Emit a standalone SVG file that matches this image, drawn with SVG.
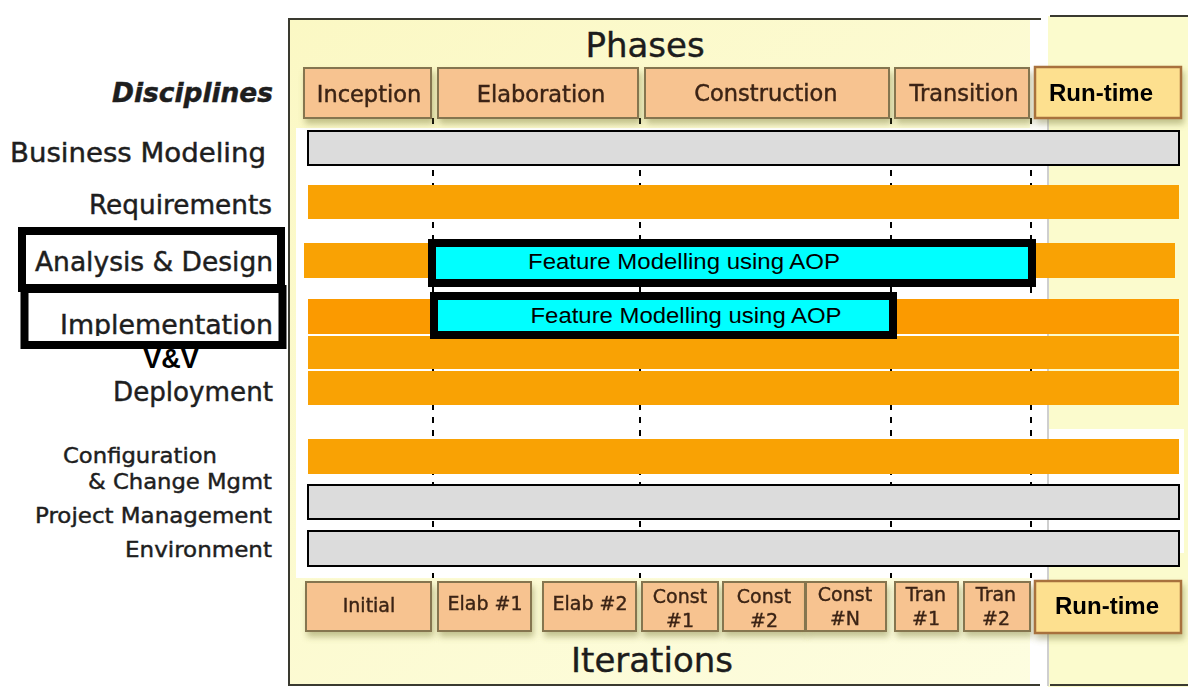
<svg xmlns="http://www.w3.org/2000/svg" width="1188" height="687" viewBox="0 0 1188 687">
  <defs>
    <linearGradient id="panelFill" x1="0" y1="0" x2="1" y2="1">
      <stop offset="0" stop-color="#fbf8c4"/>
      <stop offset="1" stop-color="#fdfde0"/>
    </linearGradient>
    <filter id="boxShadow" x="-10%" y="-20%" width="125%" height="160%">
      <feDropShadow dx="2" dy="5" stdDeviation="3" flood-color="#7d7a3a" flood-opacity="0.45"/>
    </filter>
    <clipPath id="implClip">
      <rect x="0" y="280" width="290" height="56"/>
    </clipPath>
  </defs>
  <style>
    .label { font-family: "DejaVu Sans", Verdana, sans-serif; fill: #1e1e1e; stroke: #1e1e1e; stroke-width: 0.45; }
    .disc { font-size: 26px; text-anchor: end; }
    .disc-sm { font-size: 22px; text-anchor: end; }
    .title { font-size: 34px; text-anchor: middle; fill: #1c1c1c; stroke: #1c1c1c; stroke-width: 0.4; }
    .phase rect { fill: #f7c390; stroke: #85744f; stroke-width: 2; }
    .phase text { font-family: "DejaVu Sans", Verdana, sans-serif; font-size: 22.5px; fill: #3b2414; stroke: #3b2414; stroke-width: 0.45; text-anchor: middle; }
    .iter rect { fill: #f7c390; stroke: #85744f; stroke-width: 2; }
    .iter text { font-family: "DejaVu Sans", Verdana, sans-serif; font-size: 19px; fill: #3b2414; stroke: #3b2414; stroke-width: 0.4; text-anchor: middle; }
    .runtime rect { fill: #fde08f; stroke: #a8713c; stroke-width: 2.5; }
    .runtime text { font-family: "Liberation Sans", Arial, sans-serif; font-weight: bold; font-size: 24px; fill: #000; text-anchor: middle; }
    .grey { fill: #dcdcdc; stroke: #000; stroke-width: 2; }
    .orange { fill: #f9a204; }
    .orange-deep { fill: #fb9a00; }
    .focus rect { fill: #00ffff; stroke: #000; stroke-width: 8; }
    .focus text { font-family: "Liberation Sans", Arial, sans-serif; font-size: 22px; fill: #000; text-anchor: middle; }
    .hilite { fill: none; stroke: #000; stroke-width: 8; }
    .milestone { stroke: #000; stroke-width: 2; stroke-dasharray: 6 7; fill: none; }
  </style>

  <!-- page -->
  <rect x="0" y="0" width="1188" height="687" fill="#ffffff"/>

  <!-- lifecycle panel -->
  <g id="panel">
    <rect x="289" y="19" width="752" height="667" fill="url(#panelFill)"/>
    <rect x="1048" y="16" width="140" height="671" fill="#fbfbcd"/>
    <rect x="1030" y="0" width="18" height="687" fill="#ffffff"/>
    <rect x="296" y="128" width="752" height="450" fill="#ffffff"/>
    <rect x="1048" y="429" width="136" height="124" fill="#ffffff"/>
    <line x1="1048" y1="110" x2="1048" y2="686" stroke="#cfcfcf" stroke-width="2"/>
    <polyline points="1041,19 289,19 289,685 1040,685" fill="none" stroke="#3a3a30" stroke-width="2"/>
    <line x1="1050" y1="16" x2="1188" y2="16" stroke="#3a3a30" stroke-width="2"/>
    <line x1="1050" y1="685" x2="1188" y2="685" stroke="#3a3a30" stroke-width="2"/>
  </g>

  <!-- phase and iteration boundaries -->
  <g id="connectors">
    <line class="milestone" x1="433" y1="118" x2="433" y2="578"/>
    <line class="milestone" x1="640" y1="118" x2="640" y2="578"/>
    <line class="milestone" x1="891" y1="118" x2="891" y2="578"/>
    <line class="milestone" x1="1031" y1="118" x2="1031" y2="578"/>
  </g>

  <!-- headings -->
  <text class="label title" x="645" y="57">Phases</text>
  <text class="label title" x="652" y="672">Iterations</text>

  <!-- phases -->
  <g id="phase-inception" class="phase" filter="url(#boxShadow)">
    <rect x="304" y="68" width="127" height="50"/>
    <text x="369" y="102">Inception</text>
  </g>
  <g id="phase-elaboration" class="phase" filter="url(#boxShadow)">
    <rect x="438" y="68" width="200" height="50"/>
    <text x="541" y="102">Elaboration</text>
  </g>
  <g id="phase-construction" class="phase" filter="url(#boxShadow)">
    <rect x="645" y="68" width="244" height="50"/>
    <text x="766" y="101">Construction</text>
  </g>
  <g id="phase-transition" class="phase" filter="url(#boxShadow)">
    <rect x="895" y="68" width="134" height="50"/>
    <text x="964" y="101">Transition</text>
  </g>
  <g id="phase-runtime" class="runtime" filter="url(#boxShadow)">
    <rect x="1035" y="67" width="146" height="51"/>
    <text x="1101" y="101">Run-time</text>
  </g>

  <!-- discipline workloads -->
  <g id="bar-business-modeling"><rect class="grey" x="308" y="131" width="871" height="34"/></g>
  <g id="bar-requirements"><rect class="orange" x="308" y="185" width="871" height="34"/></g>
  <g id="bar-analysis-design"><rect class="orange" x="304" y="243" width="871" height="35"/></g>
  <g id="bar-implementation"><rect class="orange-deep" x="308" y="299" width="871" height="35"/></g>
  <g id="bar-vv"><rect class="orange" x="308" y="336" width="871" height="33"/></g>
  <g id="bar-deployment"><rect class="orange" x="308" y="371" width="871" height="34"/></g>
  <g id="bar-config"><rect class="orange" x="308" y="439" width="871" height="35"/></g>
  <g id="bar-project-management"><rect class="grey" x="308" y="485" width="871" height="34"/></g>
  <g id="bar-environment"><rect class="grey" x="308" y="531" width="871" height="35"/></g>

  <!-- AOP feature modelling -->
  <g id="aop-analysis" class="focus">
    <rect x="432" y="243" width="600" height="40"/>
    <text x="684" y="269" textLength="312" lengthAdjust="spacingAndGlyphs">Feature Modelling using AOP</text>
  </g>
  <g id="aop-implementation" class="focus">
    <rect x="434" y="296" width="459" height="39"/>
    <text x="686" y="323" textLength="311" lengthAdjust="spacingAndGlyphs">Feature Modelling using AOP</text>
  </g>

  <!-- discipline names -->
  <g id="disciplines">
    <text class="label disc" x="273" y="102" font-weight="bold" font-style="italic" font-size="24" textLength="161" lengthAdjust="spacingAndGlyphs">Disciplines</text>
    <text class="label disc" x="266" y="162" textLength="256" lengthAdjust="spacingAndGlyphs">Business Modeling</text>
    <text class="label disc" x="272" y="214" textLength="183" lengthAdjust="spacingAndGlyphs">Requirements</text>
    <text class="label disc" x="273" y="271" textLength="238" lengthAdjust="spacingAndGlyphs">Analysis &amp; Design</text>
    <text class="label disc" x="273" y="334" textLength="213" lengthAdjust="spacingAndGlyphs" clip-path="url(#implClip)">Implementation</text>
    <text x="171" y="368" font-family="'Liberation Sans', Arial, sans-serif" font-weight="bold" font-size="27" text-anchor="middle" fill="#000">V&amp;V</text>
    <text class="label disc" x="273" y="401" textLength="160" lengthAdjust="spacingAndGlyphs">Deployment</text>
    <text class="label disc-sm" x="217" y="463" textLength="154" lengthAdjust="spacingAndGlyphs">Configuration</text>
    <text class="label disc-sm" x="272" y="489" textLength="184" lengthAdjust="spacingAndGlyphs">&amp; Change Mgmt</text>
    <text class="label disc-sm" x="272" y="523" textLength="237" lengthAdjust="spacingAndGlyphs">Project Management</text>
    <text class="label disc-sm" x="272" y="557" textLength="147" lengthAdjust="spacingAndGlyphs">Environment</text>
  </g>
  <g id="hilite-analysis"><rect class="hilite" x="22" y="231" width="259" height="57"/></g>
  <g id="hilite-implementation"><rect class="hilite" x="24.5" y="289" width="258" height="56"/></g>

  <!-- iterations -->
  <g id="iter-initial" class="iter" filter="url(#boxShadow)">
    <rect x="306" y="582" width="125" height="49"/>
    <text x="369" y="612">Initial</text>
  </g>
  <g id="iter-elab1" class="iter" filter="url(#boxShadow)">
    <rect x="438" y="582" width="93" height="49"/>
    <text x="485" y="610">Elab #1</text>
  </g>
  <g id="iter-elab2" class="iter" filter="url(#boxShadow)">
    <rect x="543" y="582" width="93" height="49"/>
    <text x="590" y="610">Elab #2</text>
  </g>
  <g id="iter-const1" class="iter" filter="url(#boxShadow)">
    <rect x="642" y="582" width="76" height="49"/>
    <text x="680" y="603">Const</text>
    <text x="680" y="627">#1</text>
  </g>
  <g id="iter-const2" class="iter" filter="url(#boxShadow)">
    <rect x="723" y="582" width="82" height="49"/>
    <text x="764" y="603">Const</text>
    <text x="764" y="627">#2</text>
  </g>
  <g id="iter-constN" class="iter" filter="url(#boxShadow)">
    <rect x="806" y="582" width="80" height="49"/>
    <text x="845" y="601">Const</text>
    <text x="845" y="625">#N</text>
  </g>
  <g id="iter-tran1" class="iter" filter="url(#boxShadow)">
    <rect x="895" y="582" width="63" height="49"/>
    <text x="926" y="601">Tran</text>
    <text x="926" y="625">#1</text>
  </g>
  <g id="iter-tran2" class="iter" filter="url(#boxShadow)">
    <rect x="964" y="582" width="66" height="49"/>
    <text x="996" y="601">Tran</text>
    <text x="996" y="625">#2</text>
  </g>
  <g id="iter-runtime" class="runtime" filter="url(#boxShadow)">
    <rect x="1035" y="581" width="146" height="52"/>
    <text x="1107" y="614">Run-time</text>
  </g>
</svg>
